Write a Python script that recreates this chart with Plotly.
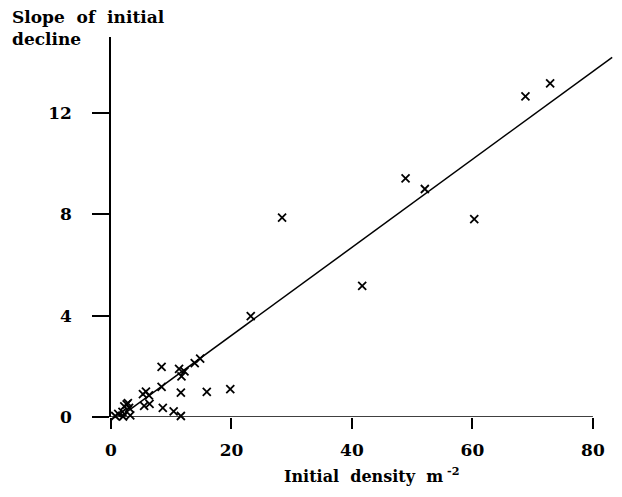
import plotly.graph_objects as go

# Observed points: initial density (m^-2) vs slope of initial decline
density = [72.9, 68.8, 48.9, 52.1, 60.3, 28.4, 41.7, 23.2,
           13.9, 14.8, 11.3, 12.2, 11.7, 8.4, 8.4, 11.6, 15.9, 19.8,
           8.6, 10.4, 11.6,
           5.3, 5.8, 6.3, 5.5, 6.4,
           2.2, 2.6, 3.0, 2.8, 1.9, 1.2, 3.2, 0.7, 2.0]
slope = [13.17, 12.66, 9.42, 9.0, 7.81, 7.87, 5.18, 3.98,
         2.13, 2.3, 1.9, 1.8, 1.6, 1.98, 1.19, 0.96, 0.99, 1.1,
         0.36, 0.22, 0.04,
         0.9, 1.0, 0.85, 0.44, 0.52,
         0.42, 0.5, 0.36, 0.55, 0.2, 0.12, 0.06, 0.04, 0.02]

# Fitted line end points
fit_x = [0.3, 83.2]
fit_y = [-0.2, 14.2]

x_ticks = [0, 20, 40, 60, 80]
y_ticks = [0, 4, 8, 12]

FONT = "DejaVu Serif"

fig = go.Figure()
fig.add_trace(go.Scatter(x=fit_x, y=fit_y, mode="lines",
                         line=dict(color="black", width=1.5),
                         showlegend=False, hoverinfo="skip"))
fig.add_trace(go.Scatter(x=density, y=slope, mode="markers",
                         marker=dict(symbol="x-thin", size=8, color="black",
                                     line=dict(color="black", width=1.8)),
                         cliponaxis=False, showlegend=False))

# x axis baseline (from 0 to 80)
fig.add_shape(type="line", xref="x", yref="y", x0=0, x1=80, y0=0, y1=0,
              line=dict(color="black", width=1.5), layer="below")

fig.update_xaxes(range=[0, 84], tickvals=x_ticks, ticktext=[str(v) for v in x_ticks],
                 ticks="outside", ticklen=11, tickwidth=1.5, tickcolor="black",
                 ticklabelstandoff=7,
                 showline=False, showgrid=False, zeroline=False,
                 tickfont=dict(family=FONT, size=17, color="black", weight="bold"))
fig.update_yaxes(range=[0, 15], tickvals=y_ticks, ticktext=[str(v) for v in y_ticks],
                 ticks="outside", ticklen=17, tickwidth=1.5, tickcolor="black",
                 ticklabelstandoff=17,
                 showline=True, linecolor="black", linewidth=1.5,
                 showgrid=False, zeroline=False,
                 tickfont=dict(family=FONT, size=17, color="black", weight="bold"))

fig.add_annotation(text="Slope  of  initial<br>decline", xref="paper", yref="paper",
                   x=-0.2, y=1.083, xanchor="left", yanchor="top", showarrow=False,
                   align="left", font=dict(family=FONT, size=17, color="black", weight="bold"))
fig.add_annotation(text="Initial  density  m<sup> -2</sup>", xref="paper", yref="paper",
                   x=0.514, y=-0.153, xanchor="center", yanchor="middle", showarrow=False,
                   font=dict(family=FONT, size=16, color="black", weight="bold"))

fig.update_layout(width=614, height=489, margin=dict(l=103, r=5, t=29, b=80),
                  paper_bgcolor="white", plot_bgcolor="white")

fig.write_html("out.html")
